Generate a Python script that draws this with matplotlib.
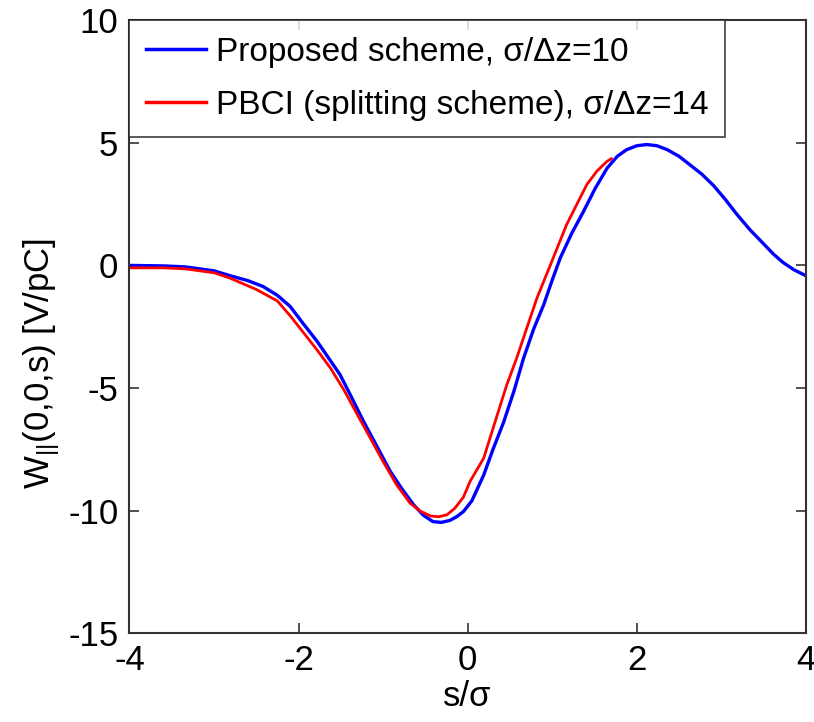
import matplotlib
matplotlib.use("Agg")
import matplotlib.pyplot as plt

# proposed scheme, sigma/dz = 10
s_blue = [-4.0, -3.6, -3.34, -3.0, -2.81, -2.6, -2.42, -2.25, -2.10, -1.95, -1.78, -1.65,
          -1.51, -1.37, -1.23, -1.07, -0.915, -0.78, -0.64, -0.52, -0.41, -0.31, -0.21,
          -0.13, -0.05, 0.05, 0.19, 0.30, 0.425, 0.55, 0.66, 0.78, 0.90, 1.0, 1.095, 1.23,
          1.37, 1.51, 1.65, 1.77, 1.88, 2.0, 2.12, 2.24, 2.36, 2.5, 2.63, 2.77, 2.91, 3.05,
          3.18, 3.34, 3.50, 3.62, 3.73, 3.86, 4.0]
w_blue = [0.0, -0.02, -0.06, -0.22, -0.42, -0.62, -0.86, -1.22, -1.67, -2.35, -3.1, -3.75,
          -4.45, -5.4, -6.37, -7.4, -8.4, -9.1, -9.76, -10.2, -10.45, -10.48, -10.4,
          -10.25, -10.04, -9.6, -8.55, -7.5, -6.4, -5.1, -3.8, -2.6, -1.6, -0.6, 0.3, 1.3,
          2.2, 3.15, 3.97, 4.45, 4.72, 4.88, 4.93, 4.88, 4.72, 4.45, 4.1, 3.72, 3.25, 2.68,
          2.1, 1.45, 0.88, 0.45, 0.12, -0.18, -0.42]

# PBCI splitting scheme, sigma/dz = 14
s_red = [-4.0, -3.6, -3.34, -3.0, -2.81, -2.5, -2.25, -2.1, -1.94, -1.78, -1.62, -1.46,
         -1.31, -1.15, -1.0, -0.84, -0.68, -0.56, -0.44, -0.34, -0.245, -0.15, -0.05,
         0.03, 0.19, 0.35, 0.46, 0.58, 0.70, 0.82, 0.98, 1.17, 1.30, 1.41, 1.53, 1.65, 1.70]
w_red = [-0.1, -0.1, -0.14, -0.3, -0.52, -0.98, -1.45, -2.05, -2.75, -3.45, -4.2, -5.1,
         -6.05, -7.05, -8.0, -8.95, -9.7, -10.02, -10.22, -10.25, -10.17, -9.9, -9.45,
         -8.8, -7.86, -6.1, -4.9, -3.78, -2.55, -1.33, 0.03, 1.66, 2.55, 3.3, 3.85, 4.25, 4.35]

labels = ["Proposed scheme, \u03c3/\u0394z=10", "PBCI (splitting scheme), \u03c3/\u0394z=14"]
xticks = [-4, -2, 0, 2, 4]
yticks = [-15, -10, -5, 0, 5, 10]

plt.rcParams["font.family"] = ["Liberation Sans", "DejaVu Sans"]
plt.rcParams["mathtext.fontset"] = "custom"
plt.rcParams["mathtext.rm"] = "Liberation Sans"
plt.rcParams["mathtext.it"] = "Liberation Sans"
plt.rcParams["axes.unicode_minus"] = False

fig = plt.figure(figsize=(8.14, 7.22), dpi=100)
ax = fig.add_axes([0.159, 0.123, 0.831, 0.849])

ax.plot(s_blue, w_blue, color="#0000ff", lw=2.4, label=labels[0])
ax.plot(s_red, w_red, color="#ff0000", lw=2.0, label=labels[1])

ax.set_xlim(-4, 4)
ax.set_ylim(-15, 10)
ax.set_xticks(xticks)
ax.set_yticks(yticks)
ax.tick_params(direction="in", length=7, width=1.2, top=True, right=True,
               labelsize=25, pad=8, color="#333333")
for sp in ax.spines.values():
    sp.set_linewidth(1.5)
    sp.set_color("#333333")

ax.set_xlabel("s/\u03c3", fontsize=25, labelpad=2)
ax.set_ylabel(r"W$_{||}$(0,0,s) [V/pC]", fontsize=25)
ax.yaxis.set_label_coords(-0.1, 0.44)

leg = ax.legend(loc="upper left", fontsize=24, frameon=True, fancybox=False,
                borderaxespad=0, handlelength=1.8, handletextpad=0.3,
                borderpad=0.5, labelspacing=0.65)
leg.get_frame().set_edgecolor("#222222")
leg.get_frame().set_linewidth(1.3)
for h in leg.get_lines():
    h.set_linewidth(2.5)

fig.savefig("out.png", dpi=100)
